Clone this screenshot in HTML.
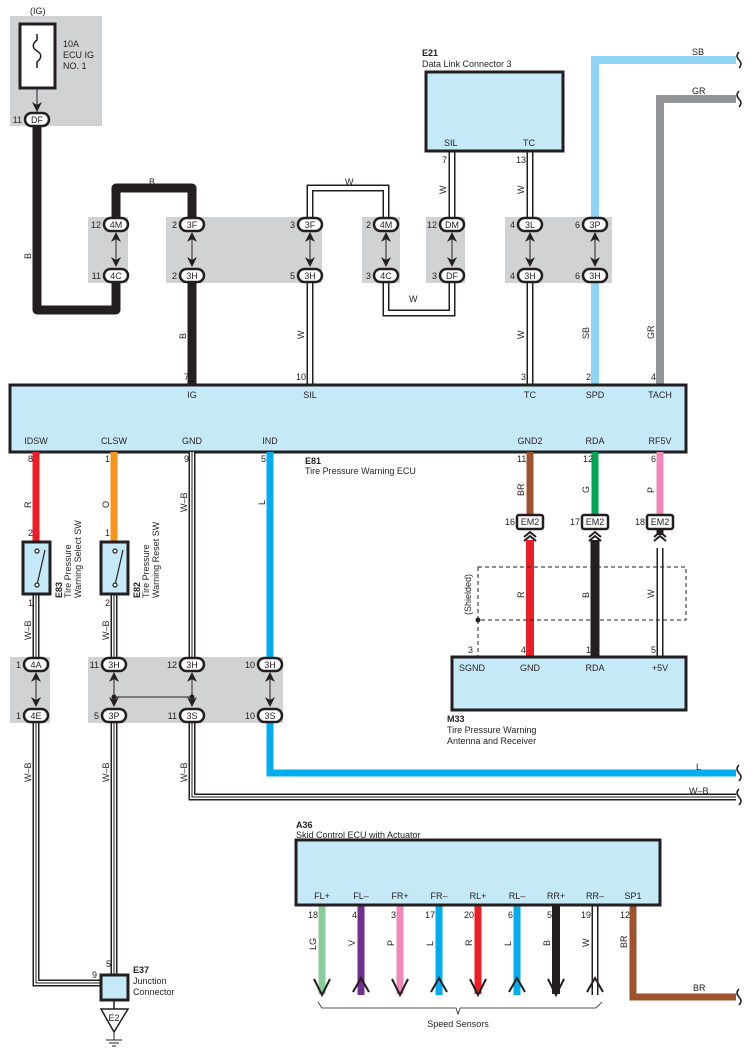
<!DOCTYPE html>
<html><head><meta charset="utf-8"><style>
html,body{margin:0;padding:0;background:#fff;}
svg{display:block;}
text{font-family:"Liberation Sans",sans-serif;font-size:9px;fill:#231f20;}
.b{font-weight:bold;}
</style></head><body>
<svg width="751" height="1062" viewBox="0 0 751 1062" xmlns="http://www.w3.org/2000/svg">
<defs>
<g id="ah"><path d="M0,0 L-5,10 L0,7 L5,10 Z" fill="#231f20"/></g>
</defs>
<g fill="#d1d2d4">
<rect x="10" y="16" width="92" height="110"/>
<rect x="88" y="217" width="40" height="66"/>
<rect x="166" y="217" width="156" height="66"/>
<rect x="362" y="217" width="38" height="66"/>
<rect x="426" y="217" width="39" height="66"/>
<rect x="505" y="217" width="107" height="66"/>
<rect x="10" y="657" width="40" height="66"/>
<rect x="88" y="657" width="195" height="66"/>
</g>
<text x="30" y="14">(IG)</text>
<rect x="20" y="24" width="35" height="64" fill="#fff" stroke="#231f20" stroke-width="3"/>
<path d="M37,34 v6 c-5,4 -5,8 0,11 c5,3 5,7 0,11 v6" fill="none" stroke="#231f20" stroke-width="1.5"/>
<line x1="37" y1="88" x2="37" y2="112" stroke="#231f20" stroke-width="1"/>
<use href="#ah" transform="translate(37,112) rotate(180)"/>
<text x="63" y="47">10A</text><text x="63" y="58">ECU IG</text><text x="63" y="69">NO. 1</text>

<g fill="none" stroke="#231f20" stroke-width="9" stroke-linejoin="round">
<path d="M37,126 V310 H116 V283"/>
<path d="M116,217 V188 H192 V217"/>
<path d="M192,283 V385"/>
</g>
<text transform="translate(31,259) rotate(-90)">B</text>
<text x="149" y="185">B</text>
<text transform="translate(186,339) rotate(-90)">B</text>

<g fill="none" stroke="#231f20" stroke-width="7" stroke-linejoin="miter">
<path d="M310,217 V188 H386 V217"/>
<path d="M386,283 V313 H452 V283"/>
<path d="M452,217 V151"/>
<path d="M530,217 V151"/>
<path d="M310,283 V385"/>
<path d="M530,283 V385"/>
<path d="M660,452 V535"/>
<path d="M660,548 V657"/>
<path d="M595,905 V995"/>
</g>
<g fill="none" stroke="#fff" stroke-width="4" stroke-linejoin="miter">
<path d="M310,217 V188 H386 V217"/>
<path d="M386,283 V313 H452 V283"/>
<path d="M452,217 V151"/>
<path d="M530,217 V151"/>
<path d="M310,283 V385"/>
<path d="M530,283 V385"/>
<path d="M660,548 V657"/>
<path d="M595,905 V995"/>
</g>
<text x="345" y="185">W</text>
<text x="409" y="302">W</text>
<text transform="translate(446,194) rotate(-90)">W</text>
<text transform="translate(524,194) rotate(-90)">W</text>
<text transform="translate(304,339) rotate(-90)">W</text>
<text transform="translate(524,339) rotate(-90)">W</text>

<path d="M595,217 V60 H736" fill="none" stroke="#8fd3f5" stroke-width="8"/>
<path d="M595,283 V385" fill="none" stroke="#8fd3f5" stroke-width="8"/>
<path d="M660,385 V99 H736" fill="none" stroke="#939598" stroke-width="8"/>
<text x="692" y="55">SB</text><text x="692" y="94">GR</text>
<text transform="translate(589,339) rotate(-90)">SB</text>
<text transform="translate(654,339) rotate(-90)">GR</text>

<text x="422" y="56" class="b">E21</text><text x="422" y="67">Data Link Connector 3</text>
<rect x="426" y="72" width="137" height="79" fill="#c6e9f8" stroke="#231f20" stroke-width="3"/>
<text x="444" y="146">SIL</text><text x="523" y="146">TC</text>
<text x="442" y="163">7</text><text x="516" y="163">13</text>

<g stroke="#231f20" stroke-width="1"><line x1="116" y1="233" x2="116" y2="266"/><line x1="192" y1="233" x2="192" y2="266"/><line x1="310" y1="233" x2="310" y2="266"/><line x1="386" y1="233" x2="386" y2="266"/><line x1="452" y1="233" x2="452" y2="266"/><line x1="530" y1="233" x2="530" y2="266"/><line x1="595" y1="233" x2="595" y2="266"/></g>
<g>
<use href="#ah" x="116" y="232"/><use href="#ah" transform="translate(116,267) rotate(180)"/>
<use href="#ah" x="192" y="232"/><use href="#ah" transform="translate(192,267) rotate(180)"/>
<use href="#ah" x="310" y="232"/><use href="#ah" transform="translate(310,267) rotate(180)"/>
<use href="#ah" x="386" y="232"/><use href="#ah" transform="translate(386,267) rotate(180)"/>
<use href="#ah" x="452" y="232"/><use href="#ah" transform="translate(452,267) rotate(180)"/>
<use href="#ah" x="530" y="232"/><use href="#ah" transform="translate(530,267) rotate(180)"/>
<use href="#ah" x="595" y="232"/><use href="#ah" transform="translate(595,267) rotate(180)"/>
</g>
<g fill="#fff" stroke="#231f20" stroke-width="2.5">
<rect x="25" y="113" width="24" height="13" rx="6.5"/>
<rect x="104" y="218" width="24" height="13" rx="6.5"/><rect x="104" y="269" width="24" height="13" rx="6.5"/>
<rect x="180" y="218" width="24" height="13" rx="6.5"/><rect x="180" y="269" width="24" height="13" rx="6.5"/>
<rect x="298" y="218" width="24" height="13" rx="6.5"/><rect x="298" y="269" width="24" height="13" rx="6.5"/>
<rect x="374" y="218" width="24" height="13" rx="6.5"/><rect x="374" y="269" width="24" height="13" rx="6.5"/>
<rect x="440" y="218" width="24" height="13" rx="6.5"/><rect x="440" y="269" width="24" height="13" rx="6.5"/>
<rect x="518" y="218" width="24" height="13" rx="6.5"/><rect x="518" y="269" width="24" height="13" rx="6.5"/>
<rect x="583" y="218" width="24" height="13" rx="6.5"/><rect x="583" y="269" width="24" height="13" rx="6.5"/>
</g>
<g text-anchor="middle">
<text x="37" y="123">DF</text>
<text x="116" y="228">4M</text><text x="116" y="279">4C</text>
<text x="192" y="228">3F</text><text x="192" y="279">3H</text>
<text x="310" y="228">3F</text><text x="310" y="279">3H</text>
<text x="386" y="228">4M</text><text x="386" y="279">4C</text>
<text x="452" y="228">DM</text><text x="452" y="279">DF</text>
<text x="530" y="228">3L</text><text x="530" y="279">3H</text>
<text x="595" y="228">3P</text><text x="595" y="279">3H</text>
</g>
<g text-anchor="end">
<text x="22" y="123">11</text>
<text x="101" y="228">12</text><text x="101" y="279">11</text>
<text x="177" y="228">2</text><text x="177" y="279">2</text>
<text x="295" y="228">3</text><text x="295" y="279">5</text>
<text x="371" y="228">2</text><text x="371" y="279">3</text>
<text x="437" y="228">12</text><text x="437" y="279">3</text>
<text x="515" y="228">4</text><text x="515" y="279">4</text>
<text x="580" y="228">6</text><text x="580" y="279">6</text>
</g>
<g text-anchor="end">
<text x="189" y="380">7</text><text x="306" y="380">10</text><text x="526" y="380">3</text><text x="591" y="380">2</text><text x="656" y="380">4</text>
</g>

<rect x="10" y="385" width="676" height="67" fill="#c6e9f8" stroke="#231f20" stroke-width="3"/>
<g text-anchor="middle">
<text x="192" y="398">IG</text><text x="310" y="398">SIL</text><text x="530" y="398">TC</text><text x="595" y="398">SPD</text><text x="660" y="398">TACH</text>
<text x="36" y="444">IDSW</text><text x="114" y="444">CLSW</text><text x="192" y="444">GND</text><text x="270" y="444">IND</text><text x="530" y="444">GND2</text><text x="595" y="444">RDA</text><text x="660" y="444">RF5V</text>
</g>
<text x="305" y="464" class="b">E81</text><text x="305" y="474">Tire Pressure Warning ECU</text>

<line x1="36" y1="452" x2="36" y2="542" stroke="#ee1c25" stroke-width="7"/>
<line x1="114" y1="452" x2="114" y2="542" stroke="#f7941d" stroke-width="7"/>
<path d="M270,452 V657" fill="none" stroke="#00aeef" stroke-width="7"/>
<path d="M270,723 V773 H736" fill="none" stroke="#00aeef" stroke-width="7"/>
<line x1="530" y1="452" x2="530" y2="515" stroke="#a0522d" stroke-width="7"/>
<line x1="595" y1="452" x2="595" y2="515" stroke="#00a651" stroke-width="7"/>
<line x1="660" y1="452" x2="660" y2="515" stroke="#f088b8" stroke-width="7"/>
<line x1="530" y1="540" x2="530" y2="657" stroke="#ee1c25" stroke-width="8"/>
<line x1="595" y1="540" x2="595" y2="657" stroke="#231f20" stroke-width="9"/>
<text x="28" y="462">8</text><text x="28" y="536">2</text><text x="105" y="462">1</text><text x="105" y="536">1</text>
<text x="184" y="462">9</text><text x="261" y="462">5</text>
<text x="517" y="462">11</text><text x="583" y="462">12</text><text x="651" y="462">6</text>
<text transform="translate(31,508) rotate(-90)">R</text>
<text transform="translate(109,508) rotate(-90)">O</text>
<text transform="translate(187,512) rotate(-90)">W–B</text>
<text transform="translate(265,505) rotate(-90)">L</text>
<text transform="translate(524,496) rotate(-90)">BR</text>
<text transform="translate(589,493) rotate(-90)">G</text>
<text transform="translate(654,493) rotate(-90)">P</text>

<g fill="none" stroke="#231f20" stroke-width="7">
<path d="M192,452 V657"/><path d="M36,594 V657"/><path d="M114,594 V657"/>
<path d="M36,723 V983 H101"/><path d="M114,723 V975"/><path d="M192,723 V797 H736"/>
</g>
<g fill="none" stroke="#fff" stroke-width="4">
<path d="M192,452 V657"/><path d="M36,594 V657"/><path d="M114,594 V657"/>
<path d="M36,723 V983 H101"/><path d="M114,723 V975"/><path d="M192,723 V797 H736"/>
</g>
<g stroke="#231f20" stroke-width="1" fill="none">
<path d="M192,452 V657"/><path d="M36,594 V657"/><path d="M114,594 V657"/>
<path d="M36,723 V983 H101"/><path d="M114,723 V975"/><path d="M192,723 V797 H736"/>
</g>

<rect x="23" y="542" width="27" height="52" fill="#c6e9f8" stroke="#231f20" stroke-width="3"/>
<rect x="101" y="542" width="27" height="52" fill="#c6e9f8" stroke="#231f20" stroke-width="3"/>
<g stroke="#231f20" stroke-width="1.2" fill="#fff">
<line x1="37" y1="585" x2="45" y2="550"/><circle cx="37" cy="551" r="2"/><circle cx="37" cy="585" r="2"/>
<line x1="115" y1="585" x2="123" y2="550"/><circle cx="115" cy="551" r="2"/><circle cx="115" cy="585" r="2"/>
</g>
<text transform="translate(62,598) rotate(-90)" class="b">E83</text>
<text transform="translate(71,598) rotate(-90)">Tire Pressure</text>
<text transform="translate(81,598) rotate(-90)">Warning Select SW</text>
<text transform="translate(140,598) rotate(-90)" class="b">E82</text>
<text transform="translate(149,598) rotate(-90)">Tire Pressure</text>
<text transform="translate(159,598) rotate(-90)">Warning Reset SW</text>
<text x="28" y="606">1</text><text x="105" y="606">2</text>
<text transform="translate(31,640) rotate(-90)">W–B</text>
<text transform="translate(109,640) rotate(-90)">W–B</text>

<g stroke="#231f20" stroke-width="1"><line x1="36" y1="673" x2="36" y2="706"/><line x1="114" y1="673" x2="114" y2="706"/><line x1="192" y1="673" x2="192" y2="706"/><line x1="270" y1="673" x2="270" y2="706"/><line x1="114" y1="697" x2="192" y2="697"/></g>
<circle cx="114" cy="697" r="2.5" fill="#231f20"/><circle cx="192" cy="697" r="2.5" fill="#231f20"/>
<use href="#ah" x="36" y="672"/><use href="#ah" transform="translate(36,707) rotate(180)"/>
<use href="#ah" x="114" y="672"/><use href="#ah" transform="translate(114,707) rotate(180)"/>
<use href="#ah" x="192" y="672"/><use href="#ah" transform="translate(192,707) rotate(180)"/>
<use href="#ah" x="270" y="672"/><use href="#ah" transform="translate(270,707) rotate(180)"/>
<g fill="#fff" stroke="#231f20" stroke-width="2.5">
<rect x="24" y="658" width="24" height="13" rx="6.5"/><rect x="24" y="709" width="24" height="13" rx="6.5"/>
<rect x="102" y="658" width="24" height="13" rx="6.5"/><rect x="102" y="709" width="24" height="13" rx="6.5"/>
<rect x="180" y="658" width="24" height="13" rx="6.5"/><rect x="180" y="709" width="24" height="13" rx="6.5"/>
<rect x="258" y="658" width="24" height="13" rx="6.5"/><rect x="258" y="709" width="24" height="13" rx="6.5"/>
</g>
<g text-anchor="middle">
<text x="36" y="668">4A</text><text x="36" y="719">4E</text>
<text x="114" y="668">3H</text><text x="114" y="719">3P</text>
<text x="192" y="668">3H</text><text x="192" y="719">3S</text>
<text x="270" y="668">3H</text><text x="270" y="719">3S</text>
</g>
<g text-anchor="end">
<text x="21" y="668">1</text><text x="21" y="719">1</text>
<text x="99" y="668">11</text><text x="99" y="719">5</text>
<text x="177" y="668">12</text><text x="177" y="719">11</text>
<text x="255" y="668">10</text><text x="255" y="719">10</text>
</g>
<text transform="translate(31,782) rotate(-90)">W–B</text>
<text transform="translate(109,782) rotate(-90)">W–B</text>
<text transform="translate(187,782) rotate(-90)">W–B</text>
<text x="696" y="770">L</text><text x="689" y="794">W–B</text>

<rect x="101" y="975" width="27" height="25" fill="#c6e9f8" stroke="#231f20" stroke-width="3"/>
<text x="133" y="973" class="b">E37</text><text x="133" y="984">Junction</text><text x="133" y="995">Connector</text>
<text x="92" y="978">9</text><text x="106" y="967">5</text>
<line x1="114" y1="1000" x2="114" y2="1009" stroke="#231f20" stroke-width="1.5"/>
<path d="M101,1009 H128 L114,1032 Z" fill="#fff" stroke="#231f20" stroke-width="1.5"/>
<text x="114" y="1021" text-anchor="middle">E2</text>
<g stroke="#231f20" stroke-width="1"><line x1="114" y1="1032" x2="114" y2="1040"/><line x1="106" y1="1040" x2="122" y2="1040"/><line x1="109" y1="1043" x2="119" y2="1043"/><line x1="112" y1="1046" x2="116" y2="1046"/></g>

<g fill="#fff" stroke="#231f20" stroke-width="2.5">
<rect x="517" y="515" width="26" height="14" rx="2"/><rect x="582" y="515" width="26" height="14" rx="2"/><rect x="647" y="515" width="26" height="14" rx="2"/>
</g>
<g text-anchor="middle"><text x="530" y="525">EM2</text><text x="595" y="525">EM2</text><text x="660" y="525">EM2</text></g>
<text x="505" y="525">16</text><text x="570" y="525">17</text><text x="635" y="525">18</text>
<g fill="none" stroke="#231f20" stroke-width="2">
<path d="M524,537 L530,532 L536,537 M524,541 L530,536 L536,541"/>
<path d="M589,537 L595,532 L601,537 M589,541 L595,536 L601,541"/>
<path d="M654,537 L660,532 L666,537 M654,541 L660,536 L666,541"/>
</g>
<rect x="478" y="567" width="208" height="53" fill="none" stroke="#231f20" stroke-width="1" stroke-dasharray="4,3"/>
<line x1="478" y1="620" x2="478" y2="657" stroke="#231f20" stroke-width="1" stroke-dasharray="4,3"/>
<circle cx="478" cy="620" r="2.5" fill="#231f20"/>
<text transform="translate(471,615) rotate(-90)">(Shielded)</text>
<text transform="translate(524,598) rotate(-90)">R</text>
<text transform="translate(589,598) rotate(-90)">B</text>
<text transform="translate(654,598) rotate(-90)">W</text>
<text x="468" y="653">3</text><text x="521" y="653">4</text><text x="586" y="653">1</text><text x="651" y="653">5</text>

<rect x="452" y="657" width="234" height="53" fill="#c6e9f8" stroke="#231f20" stroke-width="3"/>
<g text-anchor="middle"><text x="472" y="671">SGND</text><text x="530" y="671">GND</text><text x="595" y="671">RDA</text><text x="660" y="671">+5V</text></g>
<text x="447" y="722" class="b">M33</text><text x="447" y="733">Tire Pressure Warning</text><text x="447" y="744">Antenna and Receiver</text>

<text x="296" y="828" class="b">A36</text><text x="296" y="838">Skid Control ECU with Actuator</text>
<g stroke-width="7" fill="none">
<line x1="322" y1="905" x2="322" y2="994" stroke="#88cc99"/>
<line x1="361" y1="905" x2="361" y2="995" stroke="#703090"/>
<line x1="400" y1="905" x2="400" y2="994" stroke="#f088b8"/>
<line x1="439" y1="905" x2="439" y2="995" stroke="#00aeef"/>
<line x1="478" y1="905" x2="478" y2="994" stroke="#ee1c25"/>
<line x1="517" y1="905" x2="517" y2="995" stroke="#00aeef"/>
<line x1="556" y1="905" x2="556" y2="994" stroke="#231f20" stroke-width="8"/>
<path d="M633,905 V997 H736" stroke="#a0522d" stroke-width="7"/>
</g>
<rect x="296" y="840" width="364" height="65" fill="#c6e9f8" stroke="#231f20" stroke-width="3"/>
<g text-anchor="middle">
<text x="322" y="899">FL+</text><text x="361" y="899">FL–</text><text x="400" y="899">FR+</text><text x="439" y="899">FR–</text><text x="478" y="899">RL+</text><text x="517" y="899">RL–</text><text x="556" y="899">RR+</text><text x="595" y="899">RR–</text><text x="633" y="899">SP1</text>
</g>
<g text-anchor="end">
<text x="318" y="918">18</text><text x="357" y="918">4</text><text x="396" y="918">3</text><text x="435" y="918">17</text><text x="474" y="918">20</text><text x="513" y="918">6</text><text x="552" y="918">5</text><text x="591" y="918">19</text><text x="630" y="918">12</text>
</g>
<text transform="translate(316,950) rotate(-90)">LG</text>
<text transform="translate(355,946) rotate(-90)">V</text>
<text transform="translate(394,946) rotate(-90)">P</text>
<text transform="translate(433,946) rotate(-90)">L</text>
<text transform="translate(472,946) rotate(-90)">R</text>
<text transform="translate(511,946) rotate(-90)">L</text>
<text transform="translate(550,946) rotate(-90)">B</text>
<text transform="translate(589,947) rotate(-90)">W</text>
<text transform="translate(627,948) rotate(-90)">BR</text>
<text x="693" y="991">BR</text>
<g fill="none" stroke="#231f20" stroke-width="2">
<path d="M314,979 L322,995 L330,979"/><path d="M353,992 L361,978 L369,992"/><path d="M392,979 L400,995 L408,979"/><path d="M431,992 L439,978 L447,992"/><path d="M470,979 L478,995 L486,979"/><path d="M509,992 L517,978 L525,992"/><path d="M548,979 L556,995 L564,979"/><path d="M587,992 L595,978 L603,992"/>
</g>
<path d="M318,1002 L322,1008 H456 L458,1014 L460,1008 H596 L602,1002" fill="none" stroke="#231f20" stroke-width="0.8"/>
<text x="458" y="1027" text-anchor="middle">Speed Sensors</text>

<g fill="none" stroke="#231f20" stroke-width="1.5">
<path d="M739,52 q-4,4 0,8 q4,4 0,8"/><path d="M739,91 q-4,4 0,8 q4,4 0,8"/>
<path d="M739,765 q-4,4 0,8 q4,4 0,8"/><path d="M739,789 q-4,4 0,8 q4,4 0,8"/>
<path d="M739,989 q-4,4 0,8 q4,4 0,8"/>
</g>
</svg>
</body></html>
